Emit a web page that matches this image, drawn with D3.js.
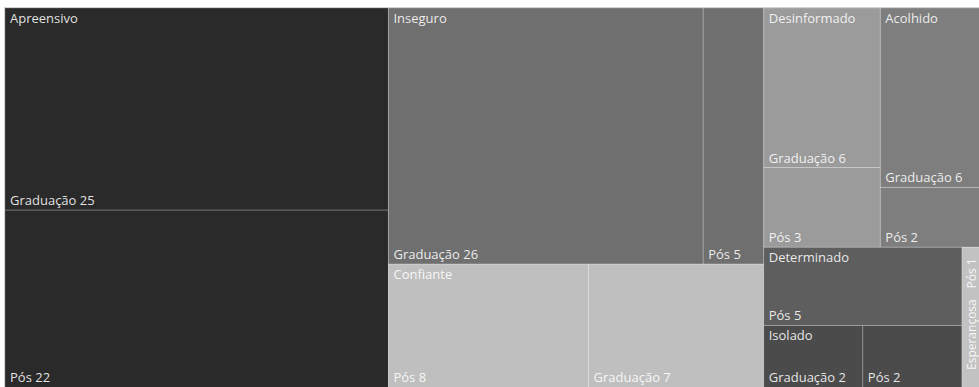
<!DOCTYPE html>
<html><head><meta charset="utf-8">
<script src="https://cdn.jsdelivr.net/npm/d3@7"></script>
<style>html,body{margin:0;padding:0;background:#fff;overflow:hidden}</style>
</head><body><svg id="c" width="979" height="387"></svg>
<script>
const groups = ["Apreensivo","Inseguro","Confiante","Desinformado","Acolhido","Determinado","Isolado","Esperançosa"];
const graduacao = [25, 26, 7, 6, 6, 0, 2, 0];
const pos = [22, 5, 8, 3, 2, 5, 2, 1];
const levels = ["Graduação", "Pós"];
const palette = ["#2a2a2a","#6f6f6f","#bfbfbf","#9b9b9b","#7e7e7e","#5e5e5e","#4b4b4b","#c2c2c2"];

const svg = d3.select("#c");
const data = {name: "root", children: groups.map((g, i) => ({
  name: g, color: palette[i],
  children: [{name: levels[0], value: graduacao[i]}, {name: levels[1], value: pos[i]}].filter(d => d.value > 0)
}))};
const root = d3.hierarchy(data).sum(d => d.value || 0).sort((a, b) => b.value - a.value);
d3.treemap().tile(d3.treemapSquarify).size([979, 380])(root);

const g0 = svg.append("g").attr("transform", "translate(5,8)");
g0.append("rect").attr("x", -0.5).attr("y", -0.5).attr("width", 980).attr("height", 381)
  .attr("fill", "none").attr("stroke", "#cfcfcf");

const font = "'Open Sans', 'Noto Sans', sans-serif";
const leaves = root.leaves();
g0.selectAll("rect.leaf").data(leaves).join("rect").attr("class", "leaf")
  .attr("x", d => d.x0).attr("y", d => d.y0)
  .attr("width", d => d.x1 - d.x0).attr("height", d => d.y1 - d.y0)
  .attr("fill", d => d.parent.data.color)
  .attr("stroke", "rgba(255,255,255,0.2)").attr("stroke-width", 1);

const txt = sel => sel.attr("font-family", font).attr("font-size", 13).attr("fill", "#fff").attr("fill-opacity", 0.88);

const grp = root.children;
grp.forEach(g => {
  const w = g.x1 - g.x0;
  if (w < 40) {
    g0.append("text").call(txt).attr("font-size", 12)
      .attr("transform", `translate(${g.x0 + 14},${g.y1 - 18}) rotate(-90)`)
      .text(g.data.name);
  } else {
    g0.append("text").call(txt).attr("x", g.x0 + 5).attr("y", g.y0 + 15).text(g.data.name);
  }
});
leaves.forEach(l => {
  const w = l.x1 - l.x0;
  const label = l.data.name + " " + l.data.value;
  if (w < 40) {
    g0.append("text").call(txt).attr("font-size", 12).attr("text-anchor", "end")
      .attr("transform", `translate(${l.x0 + 14},${l.y0 + 11}) rotate(-90)`)
      .text(label);
  } else {
    g0.append("text").call(txt).attr("x", l.x0 + 5).attr("y", Math.min(l.y1, 379) - 5).text(label);
  }
});
</script>
</body></html>
